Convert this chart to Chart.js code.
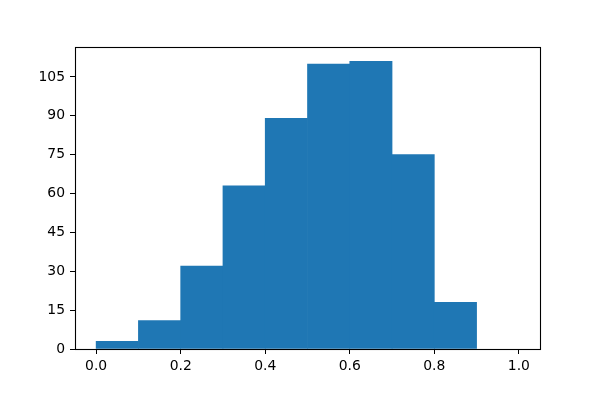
<!DOCTYPE html>
<html>
<head>
<meta charset="utf-8">
<script src="https://cdn.jsdelivr.net/npm/chart.js@4/dist/chart.umd.min.js"></script>
<style>
html,body{margin:0;padding:0;background:#fff;}
#wrap{width:600px;height:400px;}
</style>
</head>
<body>
<div id="wrap"><canvas id="c" width="600" height="400"></canvas></div>
<script>
// Histogram bin edges (left edges) and counts
const binStarts = [0.0, 0.1, 0.2, 0.3, 0.4, 0.5, 0.6, 0.7, 0.8, 0.9];
const binWidth = 0.1;
const counts = [3, 11, 32, 63, 89, 110, 111, 75, 18, 0];
const xTickValues = [0.0, 0.2, 0.4, 0.6, 0.8, 1.0];
const yTickValues = [0, 15, 30, 45, 60, 75, 90, 105];

const points = binStarts.map((s, i) => ({ x: s + binWidth / 2, y: counts[i] === 0 ? null : counts[i] }));
const FONT = { family: 'DejaVu Sans', size: 13.9 };

const frame = {
  id: 'frame',
  afterDraw(chart) {
    const a = chart.chartArea, ctx = chart.ctx;
    ctx.save();
    ctx.strokeStyle = '#000';
    ctx.lineWidth = 1.1;
    ctx.strokeRect(Math.round(a.left) + 0.5, Math.round(a.top) + 0.5,
      Math.round(a.right - a.left), Math.round(a.bottom - a.top));
    ctx.restore();
  }
};

new Chart(document.getElementById('c'), {
  type: 'bar',
  data: {
    datasets: [{
      data: points,
      backgroundColor: '#1f77b4',
      borderWidth: 0,
      barPercentage: 1.0,
      categoryPercentage: 1.0,
      grouped: false
    }]
  },
  options: {
    responsive: false,
    animation: false,
    events: [],
    layout: { padding: { left: 0, top: 47, right: 60, bottom: 0 } },
    plugins: { legend: { display: false }, tooltip: { enabled: false } },
    scales: {
      x: {
        type: 'linear',
        min: -0.05,
        max: 1.05,
        offset: false,
        afterBuildTicks: (s) => { s.ticks = xTickValues.map(v => ({ value: v })); },
        afterFit: (s) => { s.height = 51; },
        ticks: {
          color: '#000',
          font: FONT,
          padding: 4,
          maxRotation: 0,
          callback: (v) => Number(v).toFixed(1)
        },
        grid: { offset: false, drawOnChartArea: false, drawTicks: true, tickLength: 5, color: '#000', lineWidth: 1 },
        border: { display: true, color: '#000', width: 1 }
      },
      y: {
        type: 'linear',
        min: 0,
        max: 116.55,
        afterBuildTicks: (s) => { s.ticks = yTickValues.map(v => ({ value: v })); },
        afterFit: (s) => { s.width = 75; },
        ticks: { color: '#000', font: FONT, padding: 5 },
        grid: { drawOnChartArea: false, drawTicks: true, tickLength: 5, color: '#000', lineWidth: 1 },
        border: { display: true, color: '#000', width: 1 }
      }
    }
  },
  plugins: [frame]
});
</script>
</body>
</html>
